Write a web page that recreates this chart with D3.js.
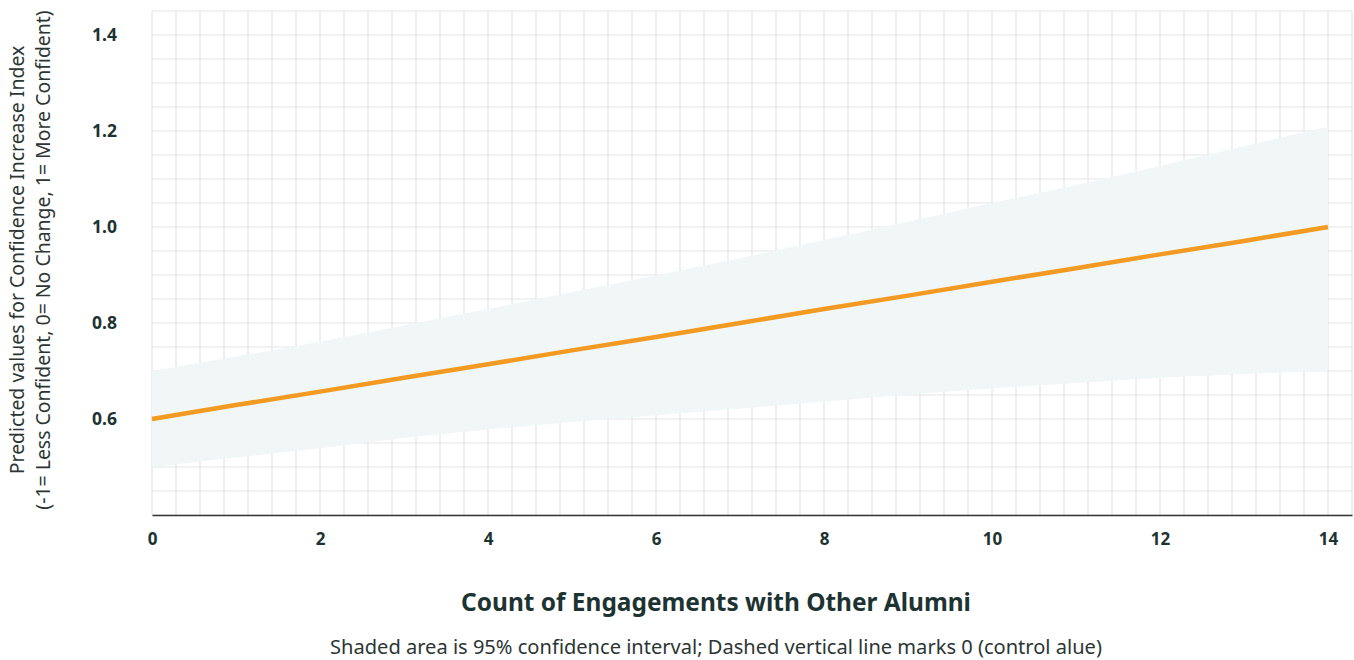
<!DOCTYPE html>
<html>
<head>
<meta charset="utf-8">
<script src="https://cdn.jsdelivr.net/npm/d3@7"></script>
<style>
  html, body { margin: 0; padding: 0; background: #ffffff; }
  svg { display: block; font-family: "Noto Sans", Lato, sans-serif; }
</style>
</head>
<body>
<svg id="chart" width="1354" height="660"></svg>
<script>
// Predicted confidence index by number of alumni engagements
const engagements = [0, 1, 2, 3, 4, 5, 6, 7, 8, 9, 10, 11, 12, 13, 14];
const predicted   = [0.600, 0.629, 0.657, 0.686, 0.714, 0.743, 0.771, 0.800, 0.829, 0.857, 0.886, 0.914, 0.943, 0.971, 1.000];
const ciUpper     = [0.700, 0.730, 0.761, 0.795, 0.829, 0.864, 0.899, 0.935, 0.973, 1.011, 1.050, 1.087, 1.127, 1.168, 1.209];
const ciLower     = [0.500, 0.520, 0.539, 0.561, 0.578, 0.594, 0.608, 0.622, 0.636, 0.651, 0.664, 0.675, 0.686, 0.694, 0.700];

const xTickValues = [0, 2, 4, 6, 8, 10, 12, 14];
const yTickValues = [0.6, 0.8, 1.0, 1.2, 1.4];

const xTitle = "Count of Engagements with Other Alumni";
const yTitleLines = ["Predicted values for Confidence Increase Index",
                     "(-1= Less Confident, 0= No Change, 1= More Confident)"];
const caption = "Shaded area is 95% confidence interval; Dashed vertical line marks 0 (control alue)";

const svg = d3.select("#chart");
const plot = { left: 152, right: 1352, top: 11, bottom: 515 };

const x = d3.scaleLinear().domain([0, 100 / 7]).range([plot.left, plot.right]);
const y = d3.scaleLinear().domain([0.4, 1.45]).range([plot.bottom, plot.top]);

const rows = engagements.map((e, i) => ({ e, fit: predicted[i], lo: ciLower[i], hi: ciUpper[i] }));

// font size that makes `node` span `target` pixels, given its current size
function sizeFor(node, fs, target) {
  const w = node.getComputedTextLength();
  return w > 0 ? +(fs * target / w).toFixed(2) : fs;
}

// grid
const grid = svg.append("g").attr("stroke", "#e5e5e5").attr("stroke-width", 1.2);
grid.selectAll("line.v").data(d3.range(0, 51).map(k => k * 2 / 7)).join("line")
  .attr("class", "v")
  .attr("x1", d => x(d)).attr("x2", d => x(d))
  .attr("y1", plot.top).attr("y2", plot.bottom);
grid.selectAll("line.h").data(d3.range(0, 22).map(k => 0.4 + k * 0.05)).join("line")
  .attr("class", "h")
  .attr("x1", plot.left).attr("x2", plot.right)
  .attr("y1", d => y(d)).attr("y2", d => y(d));

// confidence band
svg.append("path").datum(rows)
  .attr("fill", "#f1f6f6")
  .attr("d", d3.area().x(d => x(d.e)).y0(d => y(d.lo)).y1(d => y(d.hi)));

// fitted line
svg.append("path").datum(rows)
  .attr("fill", "none")
  .attr("stroke", "#f39a22")
  .attr("stroke-width", 4.5)
  .attr("d", d3.line().x(d => x(d.e)).y(d => y(d.fit)));

// x axis
const xAxis = svg.append("g")
  .attr("transform", `translate(0,${plot.bottom})`)
  .call(d3.axisBottom(x).tickValues(xTickValues).tickSize(0).tickPadding(18).tickFormat(d3.format("d")));
xAxis.select(".domain").attr("stroke", "#333333").attr("stroke-width", 1.6);
xAxis.selectAll("text")
  .attr("fill", "#1d3331").attr("font-size", 17).attr("font-weight", 700)
  .attr("font-family", "'Noto Sans', Lato, sans-serif");

// y axis labels
const yAxis = svg.append("g")
  .attr("transform", `translate(${plot.left},0)`)
  .call(d3.axisLeft(y).tickValues(yTickValues).tickSize(0).tickPadding(35).tickFormat(d3.format(".1f")));
yAxis.select(".domain").remove();
yAxis.selectAll("text")
  .attr("fill", "#1d3331").attr("font-size", 17.5).attr("font-weight", 700)
  .attr("font-family", "'Noto Sans', Lato, sans-serif");

// x axis title
const xt = svg.append("text")
  .attr("x", 716).attr("y", 611)
  .attr("text-anchor", "middle")
  .attr("fill", "#1d3331").attr("font-size", 22).attr("font-weight", 700)
  .text(xTitle);
xt.attr("font-size", sizeFor(xt.node(), 22, 510));

// caption
const cap = svg.append("text")
  .attr("x", 716).attr("y", 654)
  .attr("text-anchor", "middle")
  .attr("fill", "#2b3634").attr("font-size", 18)
  .text(caption);
cap.attr("font-size", sizeFor(cap.node(), 18, 772));

// y axis title, two lines
const yTitle = svg.append("text")
  .attr("transform", "translate(0,260) rotate(-90)")
  .attr("text-anchor", "middle")
  .attr("fill", "#2b3634").attr("font-size", 18);
const spans = yTitleLines.map((t, i) =>
  yTitle.append("tspan").attr("x", 0).attr("y", 24 + i * 26).text(t));
yTitle.attr("font-size", sizeFor(spans[1].node(), 18, 500));
</script>
</body>
</html>
